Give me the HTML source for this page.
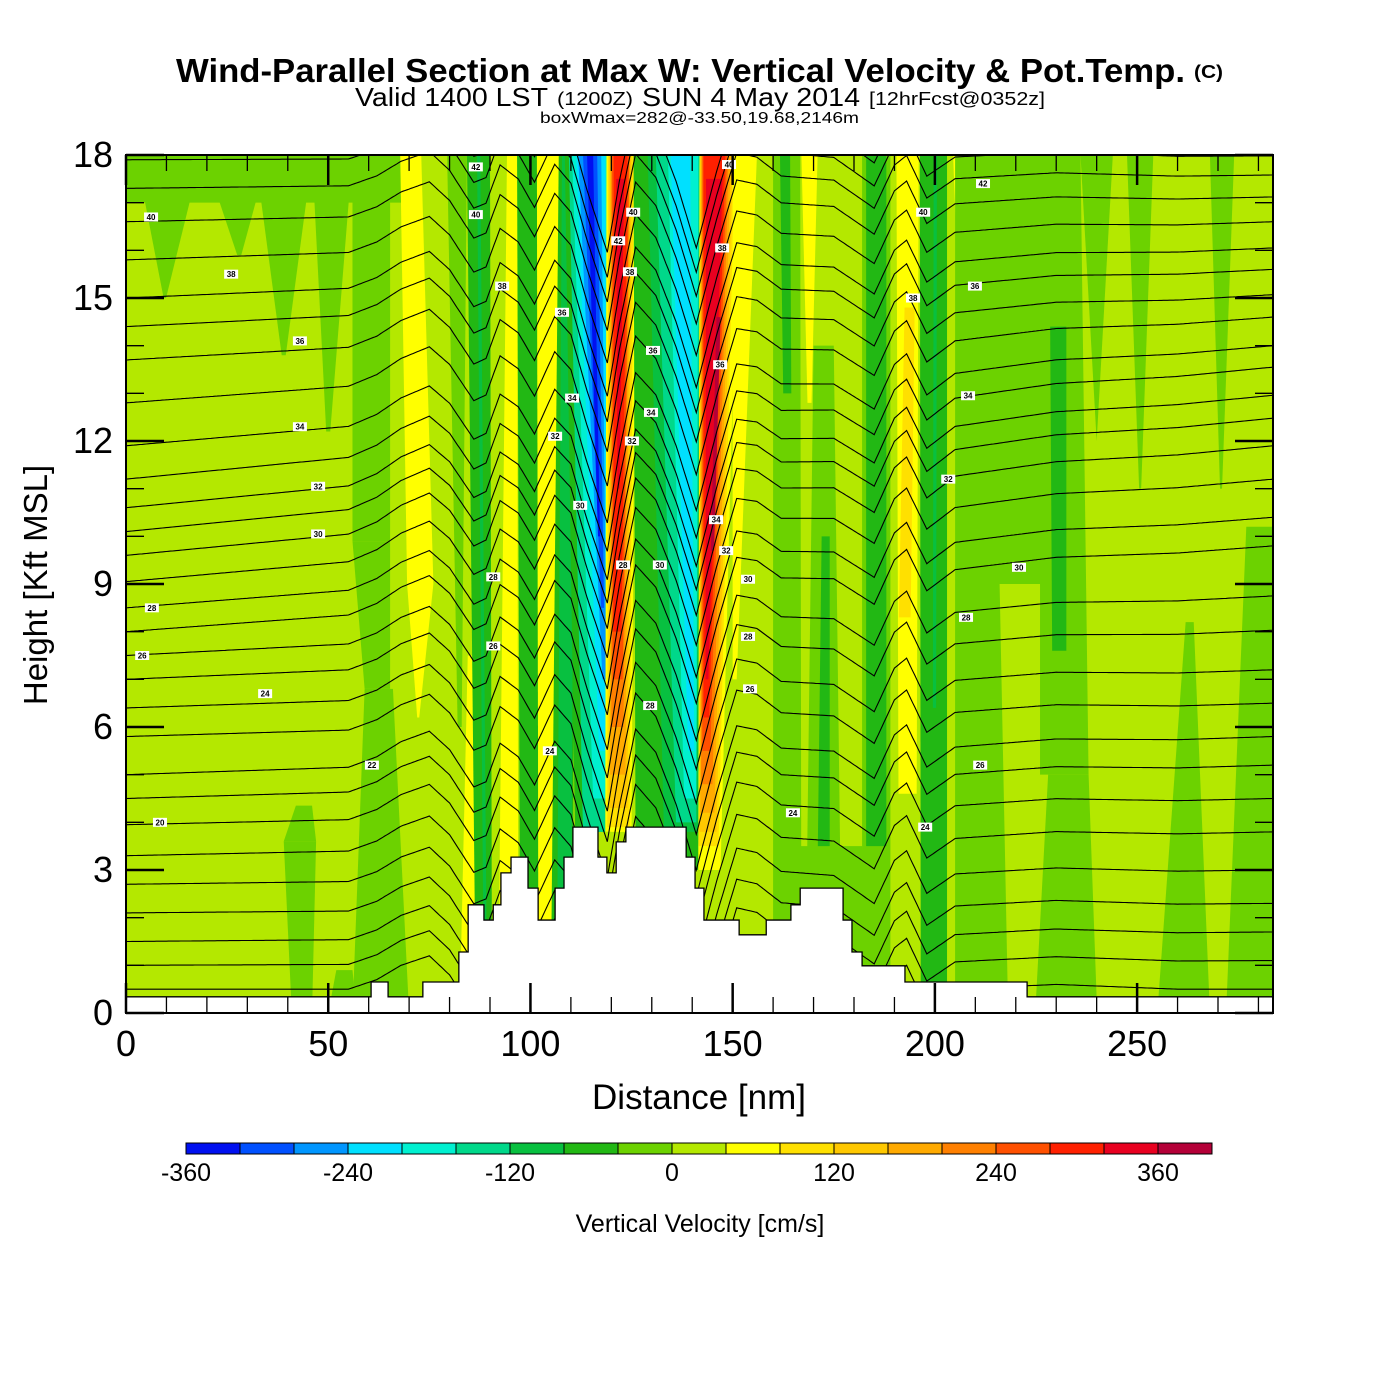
<!DOCTYPE html>
<html><head><meta charset="utf-8"><title>Wind-Parallel Section</title>
<style>html,body{margin:0;padding:0;background:#fff}svg{display:block}text{font-family:"Liberation Sans",Arial,sans-serif}</style>
</head><body>
<svg id="chart" xmlns="http://www.w3.org/2000/svg" width="1400" height="1400" viewBox="0 0 1400 1400">
<rect x="0" y="0" width="1400" height="1400" fill="#fff"/>
<g>
<text x="176" y="82" font-size="33" font-weight="bold" textLength="1009" lengthAdjust="spacingAndGlyphs">Wind-Parallel Section at Max W: Vertical Velocity &amp; Pot.Temp.</text>
<text x="1194" y="78" font-size="18" font-weight="bold" textLength="29" lengthAdjust="spacingAndGlyphs">(C)</text>
<text x="355" y="106" font-size="26" textLength="193" lengthAdjust="spacingAndGlyphs">Valid 1400 LST</text>
<text x="557" y="105" font-size="18" textLength="76" lengthAdjust="spacingAndGlyphs">(1200Z)</text>
<text x="642" y="106" font-size="26" textLength="218" lengthAdjust="spacingAndGlyphs">SUN 4 May 2014</text>
<text x="869" y="105" font-size="18" textLength="176" lengthAdjust="spacingAndGlyphs">[12hrFcst@0352z]</text>
<text x="540" y="123" font-size="16" textLength="319" lengthAdjust="spacingAndGlyphs">boxWmax=282@-33.50,19.68,2146m</text>
</g>
<defs><clipPath id="plotclip"><rect x="126" y="155" width="1147" height="858"/></clipPath></defs>
<g id="field" clip-path="url(#plotclip)"></g>
<g id="theta" clip-path="url(#plotclip)"></g>
<g id="terrain" clip-path="url(#plotclip)"></g>
<g id="labels" clip-path="url(#plotclip)"></g>
<g id="axes"></g>
<g id="cbar"></g>
</svg>
<script>
// ---- data ----
var xMax = 283.6, yMax = 18;
var xTicks = [0, 50, 100, 150, 200, 250];
var yTicks = [0, 3, 6, 9, 12, 15, 18];
var cbarTicks = [-360, -240, -120, 0, 120, 240, 360];
var cbarColors = ["#0010f0","#0050ff","#0096ff","#00e0ff","#00f0d0","#00d88a","#08c040","#22b814","#6cd200","#b4e800","#ffff00","#ffe000","#ffc800","#ffaa00","#ff8000","#ff5000","#ff2000","#e80020","#b40038"];
var backgroundW = 20;
// band edges: [xLeftLow, xRightLow, xLeftHigh, xRightHigh, heightLow, heightHigh] (nm, kft)
var bandEdges = [
[0,70,0,70,17.0,18],[9.3,9.9,4.5,16,15.0,17.1],[27.5,28.5,22,33,15.9,17.3],[38.5,39.5,33,45,13.8,17.3],[49.5,50.5,46,56,12.2,18],
[56,65.3,56,65.3,9.9,18],[59,65.3,56,65.3,6.8,9.9],[56,70,59,66,0,6.8],[41,46,39,47,0,3.6],[39,47,42,46,3.6,4.35],[50,57,52,56,0,0.9],
[72,72.5,69.5,76,6.2,9],[69.5,76,67.8,73,9,18],[82.5,87.5,84.5,86,0,7.5],[82,83,79.4,84.3,6,18],
[86.5,90.5,84.3,90,0,18],[88.5,89.3,86.8,87.6,0,18],[92,97,94.2,96.7,0,18],[97.5,102,96.7,101.6,0,18],[102,107,101.6,107.8,0,18],
[105,110.5,107,111,0,18],[106.5,110,107.8,111,0,18],
[111,120,108.5,120,3.8,18],[113,119.5,109.5,119.5,3.8,18],[115.5,119.2,110.3,119,4.5,18],[117,119,111.3,118.5,5.5,18],[117.8,118.8,111.8,117.5,7,18],[117.5,118.2,113,116.5,8.5,18],[116.7,117.2,114,115.5,10,18],
[118.5,125,118.8,126,3.8,18],[119,124.5,119.2,125.5,3.9,18],[119.5,124,119.5,125,4.3,18],[119.7,123.5,119.8,124.7,5,18],[120,123,120,124.5,6,18],[120.3,122.8,120.2,124.4,7,18],[120.5,122.5,120.6,124,8,18],[121.5,122,121.2,123.2,11,17.5],
[126,141.5,125.5,142.5,3.0,18],[133,141.5,129,142.5,3.8,18],[136,141,131,142,4,18],[138,141,134,141.5,4.5,18],[139,140.5,134.7,139.5,5.5,18],
[141.5,147,141.8,151.5,3.0,18],[141.6,146.5,141.9,150.5,3.5,18],[141.8,146,142,150,3.8,18],[142,145.5,142.2,149.5,4.2,18],[142.2,145,142.4,149,4.8,18],[142.5,144.5,142.6,148.6,5.5,18],[142.8,144.2,142.8,148.2,6.2,18],[143.3,144,143.4,147.5,7,17.5],[144.6,145.4,146,147,9.7,14.6],
[150,151,150,156,7,18],[160,167,160,166.7,0,18],[162.5,164.5,161.7,164.2,13,18],[168.5,169.5,167,171,12.8,18],
[168,177,170,175,0.5,14],[171,174,172,174,3.1,10],[182,189,182,189,0.5,18],[183,188,183,188,3.5,18],
[191,195.5,190.5,196,4.6,18],[191.1,194,192.5,195,8.3,14.8],[196.5,203,196.3,203,0.5,18],[199.5,200.3,199.7,200.5,6.4,18],[205.5,206,204.5,207,15.8,18],
[205,228,205,228,9,18],[205,218,205,216,0.5,9],[226,238,226,236,5,18],[229,232.5,228.5,232.5,7.6,14.4],[240,240,236,244,12,18],
[270.5,271,268,274,11,18],[250.5,251,247.5,254,11,18],[255,268,262,264,0,8.2],[272,283.6,277,283.6,0,10.2],[225,240,228,238,0.3,5],[160,185,165,182,0.3,3.5]
];
// vertical velocity (cm/s) for each band
var bandW = [
-20,-20,-20,-20,-20,
-20,-20,-20,-20,-20,-20,
60,60,60,-20,
-60,-100,60,-60,60,
-60,-100,
-60,-140,-180,-220,-260,-300,-340,
60,100,140,180,220,260,300,340,
-60,-100,-140,-180,-220,
60,100,140,180,220,260,300,340,380,
60,-20,-60,60,
-20,-60,-20,-60,
60,100,-60,-100,60,
-20,-20,-20,-60,-20,
-20,-20,-20,-20,-20,-20
];
// terrain steps
var terrainX = [0,60.6,64.8,73.4,82.3,84.6,88.5,90.8,92.7,95.2,99.4,101.9,106.1,108.3,110.5,116.7,118.9,121.2,123.6,138.5,140.7,142.9,151.6,158.3,164.4,166.7,177.3,179.5,182.0,192.6,222.8,283.6];
var terrainH = [0.34,0.65,0.34,0.65,1.28,2.27,1.95,2.27,2.94,3.27,2.62,1.95,2.62,3.27,3.90,3.27,2.94,3.59,3.90,3.27,2.62,1.95,1.64,1.95,2.27,2.62,1.95,1.28,0.99,0.65,0.34];
// potential temperature contours (K) : heights at left & right edges (kft)
var thetaLevels = [14,15,16,17,18,19,20,21,22,23,24,25,26,27,28,29,30,31,32,33,34,35,36,37,38,39,40,41,42,43];
var thetaLeft = [0.5,1.0,1.5,2.1,2.7,3.3,3.95,4.5,5.0,5.8,6.4,7.0,7.5,8.0,8.5,9.05,9.6,10.1,10.6,11.2,11.9,12.8,13.7,14.4,15.0,15.8,16.6,17.3,17.9,18.5];
var thetaRight = [0.5,1.1,1.7,2.3,3.0,3.8,4.5,5.2,5.8,6.5,7.2,8.03,8.75,9.8,10.4,11.2,11.9,12.48,12.96,13.55,14.0,14.6,15.07,15.6,16.05,16.6,17.12,17.58,17.98,18.4];
// displacement of isentropes along the section (kft)
var dipX = [0,55,62,68,75,80,86,89,92.5,97,101,106,110,114,119,122,126,131,136,141,146,151,156,162,175,185,190,193,198,205,230,260,283.6];
var dipK = [0,0,0.2,0.5,0.7,0.3,-0.5,-0.4,0.4,0.1,-0.5,0.4,0,-1.2,-2.5,-1.0,0.6,0.1,-1.0,-2.4,-0.8,0.6,0.5,0.1,0,-0.6,0.3,0.5,-0.4,0,0.1,0,0];
// contour labels: distance (nm), height (kft), text
var labelX = [6.2,26.0,43.0,43.0,47.5,47.5,6.4,4.0,34.4,60.8,8.4,86.5,86.5,93.0,107.8,110.3,106.1,112.3,90.8,90.8,104.8,125.4,121.7,124.6,130.3,129.8,125.1,122.9,132.0,129.6,149.1,147.4,146.9,145.9,148.4,153.8,153.8,154.3,164.9,211.9,197.1,194.6,209.9,208.2,203.3,220.8,207.7,211.2,197.6];
var labelH = [16.7,15.5,14.1,12.3,11.05,10.05,8.5,7.5,6.7,5.2,4.0,17.75,16.75,15.25,14.7,12.9,12.1,10.65,9.15,7.7,5.5,16.8,16.2,15.55,13.9,12.6,12.0,9.4,9.4,6.45,17.8,16.05,13.6,10.35,9.7,9.1,7.9,6.8,4.2,17.4,16.8,15.0,15.25,12.95,11.2,9.35,8.3,5.2,3.9];
var labelText = ["40","38","36","34","32","30","28","26","24","22","20","42","40","38","36","34","32","30","28","26","24","40","42","38","36","34","32","28","30","28","40","38","36","34","32","30","28","26","24","42","40","38","36","34","32","30","28","26","24"];

// ---- scales ----
var PL = 126, PR = 1273, PT = 155, PB = 1013;
function X(d){ return PL + d * (PR - PL) / xMax; }
function Y(h){ return PB - h * (PB - PT) / yMax; }
var CB0 = 186, CBW = 54;
function CX(w){ return CB0 + (w + 360) / 40 * CBW; }
function colorFor(w){ var i = Math.floor((w + 360) / 40); if (i < 0) i = 0; if (i > 18) i = 18; return cbarColors[i]; }
var NS = "http://www.w3.org/2000/svg";
function mk(tag, parent){ var e = document.createElementNS(NS, tag); parent.appendChild(e); return e; }

// ---- field ----
var field = document.getElementById('field');
var bg = mk('rect', field);


bg.setAttribute('x', PL); bg.setAttribute('y', PT); bg.setAttribute('width', PR - PL); bg.setAttribute('height', PB - PT);
bg.setAttribute('fill', colorFor(backgroundW));
for (var i = 0; i < bandEdges.length; i++) {
  var b = bandEdges[i];
  var p = mk('polygon', field);
  
  
  p.setAttribute('points', X(b[0]) + ',' + Y(b[4]) + ' ' + X(b[1]) + ',' + Y(b[4]) + ' ' + X(b[3]) + ',' + Y(b[5]) + ' ' + X(b[2]) + ',' + Y(b[5]));
  p.setAttribute('fill', colorFor(bandW[i]));
}

// ---- theta contours ----
function dipAt(x){
  for (var k = 0; k < dipX.length - 1; k++) {
    if (x >= dipX[k] && x <= dipX[k+1]) { var t = (x - dipX[k]) / (dipX[k+1] - dipX[k]); return dipK[k] + t * (dipK[k+1] - dipK[k]); }
  }
  return 0;
}
var theta = document.getElementById('theta');
for (var j = 0; j < thetaLevels.length; j++) {
  var pts = [];
  for (var x = 0; x <= xMax + 0.001; x += 0.5) {
    var h = thetaLeft[j] + (thetaRight[j] - thetaLeft[j]) * x / xMax + dipAt(x);
    pts.push(X(x).toFixed(1) + ',' + Y(h).toFixed(1));
  }
  var pl = mk('polyline', theta);
  
  
  pl.setAttribute('points', pts.join(' '));
  pl.setAttribute('fill', 'none');
  pl.setAttribute('stroke', '#000');
  pl.setAttribute('stroke-width', '1.1');
}

// ---- terrain ----
var terr = document.getElementById('terrain');
var tp = [X(0) + ',' + (PB + 2)];
for (var i = 0; i < terrainH.length; i++) {
  tp.push(X(terrainX[i]) + ',' + Y(terrainH[i]));
  tp.push(X(terrainX[i+1]) + ',' + Y(terrainH[i]));
}
tp.push(X(xMax) + ',' + (PB + 2));
var tpoly = mk('polygon', terr);


tpoly.setAttribute('points', tp.join(' '));
tpoly.setAttribute('fill', '#fff');
tpoly.setAttribute('stroke', '#000');
tpoly.setAttribute('stroke-width', '1.3');

// ---- contour labels ----
var lab = document.getElementById('labels');
for (var i = 0; i < labelText.length; i++) {
  var g = mk('g', lab);
  
  
  var r = mk('rect', g);
  r.setAttribute('x', X(labelX[i]) - 7); r.setAttribute('y', Y(labelH[i]) - 4.5);
  r.setAttribute('width', 14); r.setAttribute('height', 9); r.setAttribute('fill', '#fff');
  var t = mk('text', g);
  t.setAttribute('x', X(labelX[i])); t.setAttribute('y', Y(labelH[i]) + 3);
  t.setAttribute('font-size', '8'); t.setAttribute('font-weight', 'bold'); t.setAttribute('text-anchor', 'middle');
  t.textContent = labelText[i];
}

// ---- axes ----
var ax = document.getElementById('axes');
function line(parent, x1, y1, x2, y2, w, name){
  var l = mk('line', parent);
  
  
  l.setAttribute('x1', x1); l.setAttribute('y1', y1); l.setAttribute('x2', x2); l.setAttribute('y2', y2);
  l.setAttribute('stroke', '#000'); l.setAttribute('stroke-width', w);
  return l;
}
for (var d = 0; d <= xMax; d += 10) {
  var major = (d % 50 === 0);
  var len = major ? 30 : 16;
  line(ax, X(d), PB, X(d), PB - len, major ? 2.5 : 1.3, 'x-tick');
  line(ax, X(d), PT, X(d), PT + len, major ? 2.5 : 1.3, 'x-tick-top');
}
for (var h = 0; h <= yMax; h += 1) {
  var major = (h % 3 === 0);
  var len = major ? 38 : 18;
  line(ax, PL, Y(h), PL + len, Y(h), major ? 2.5 : 1.3, 'y-tick');
  line(ax, PR, Y(h), PR - len, Y(h), major ? 2.5 : 1.3, 'y-tick-right');
}
var frame = mk('rect', ax);


frame.setAttribute('x', PL); frame.setAttribute('y', PT); frame.setAttribute('width', PR - PL); frame.setAttribute('height', PB - PT);
frame.setAttribute('fill', 'none'); frame.setAttribute('stroke', '#000'); frame.setAttribute('stroke-width', '2');
for (var i = 0; i < xTicks.length; i++) {
  var t = mk('text', ax);
  
  
  t.setAttribute('x', X(xTicks[i])); t.setAttribute('y', 1056); t.setAttribute('font-size', '36'); t.setAttribute('text-anchor', 'middle');
  t.textContent = xTicks[i];
}
for (var i = 0; i < yTicks.length; i++) {
  var t = mk('text', ax);
  
  
  t.setAttribute('x', 113); t.setAttribute('y', Y(yTicks[i]) + 12); t.setAttribute('font-size', '36'); t.setAttribute('text-anchor', 'end');
  t.textContent = yTicks[i];
}
var xt = mk('text', ax);


xt.setAttribute('x', 699); xt.setAttribute('y', 1109); xt.setAttribute('font-size', '35'); xt.setAttribute('text-anchor', 'middle');
xt.textContent = 'Distance [nm]';
var yt = mk('text', ax);


yt.setAttribute('x', 0); yt.setAttribute('y', 0); yt.setAttribute('font-size', '33'); yt.setAttribute('text-anchor', 'middle');
yt.setAttribute('transform', 'translate(47,585) rotate(-90)');
yt.textContent = 'Height [Kft MSL]';

// ---- colorbar ----
var cb = document.getElementById('cbar');
for (var i = 0; i < cbarColors.length; i++) {
  var r = mk('rect', cb);
  
  
  r.setAttribute('x', CX(-360 + i * 40)); r.setAttribute('y', 1143); r.setAttribute('width', CBW); r.setAttribute('height', 11);
  r.setAttribute('fill', cbarColors[i]); r.setAttribute('stroke', '#000'); r.setAttribute('stroke-width', '1');
}
for (var i = 0; i < cbarTicks.length; i++) {
  var t = mk('text', cb);
  
  
  t.setAttribute('x', CX(cbarTicks[i])); t.setAttribute('y', 1181); t.setAttribute('font-size', '25'); t.setAttribute('text-anchor', 'middle');
  t.textContent = cbarTicks[i];
}
var ct = mk('text', cb);


ct.setAttribute('x', 700); ct.setAttribute('y', 1232); ct.setAttribute('font-size', '25'); ct.setAttribute('text-anchor', 'middle');
ct.textContent = 'Vertical Velocity [cm/s]';
</script>
</body></html>
